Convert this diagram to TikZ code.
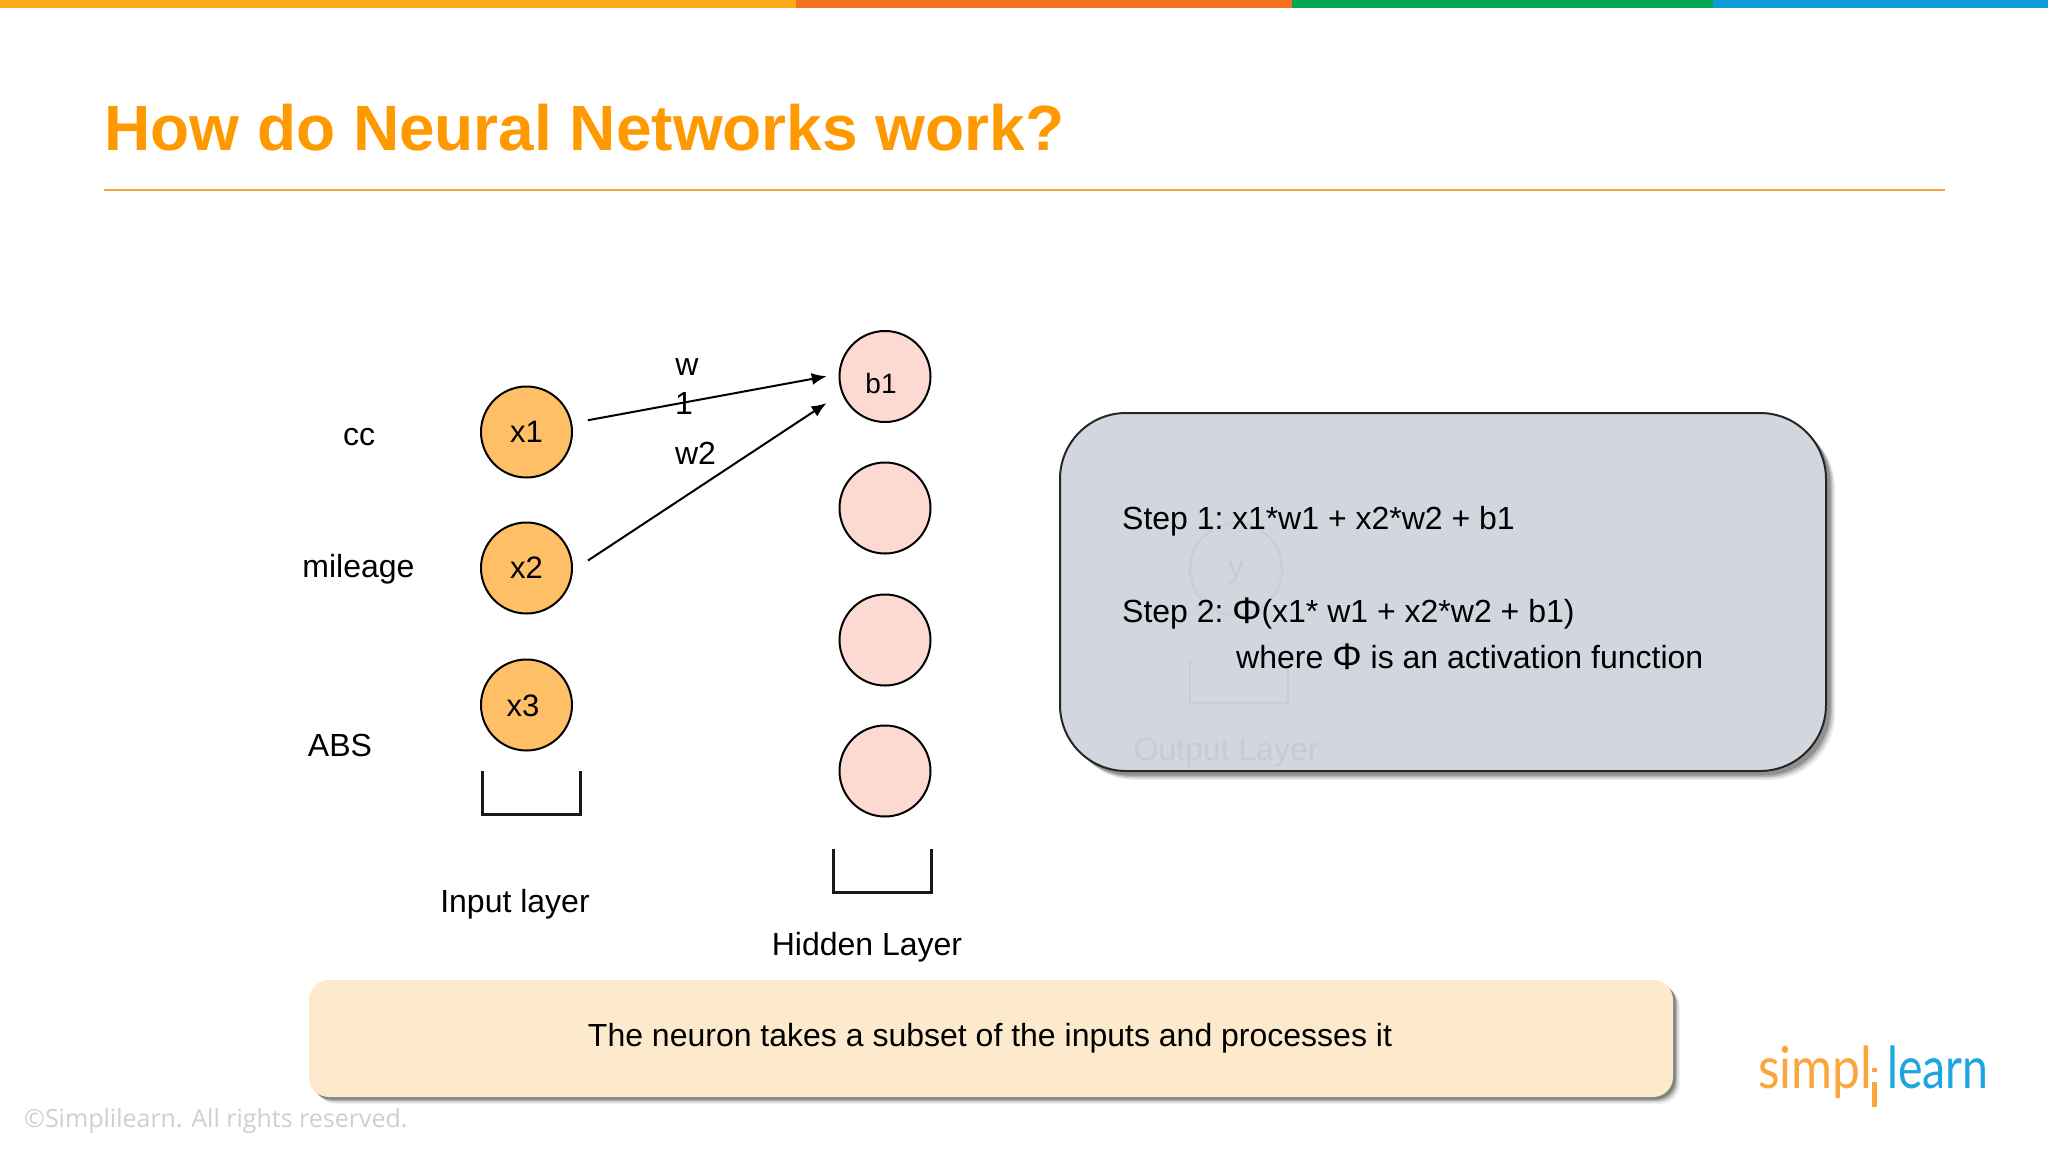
\documentclass[tikz,border=0pt]{standalone}
\usepackage{fontspec}
\setmainfont{Liberation Sans}
\newfontfamily\copyfont{Open Sans}
\newfontfamily\logofont{Lato}
\usetikzlibrary{arrows.meta}
\definecolor{barA}{HTML}{FBA919}
\definecolor{barB}{HTML}{F37021}
\definecolor{barC}{HTML}{00A651}
\definecolor{barD}{HTML}{0F9BD7}
\definecolor{titleC}{HTML}{FF9900}
\definecolor{ruleC}{HTML}{F3A33C}
\definecolor{inC}{HTML}{FFBF66}
\definecolor{hidC}{HTML}{FCDAD2}
\definecolor{greyBox}{HTML}{D1D6DF}
\definecolor{ghost}{HTML}{C8CDD9}
\definecolor{ghostT}{HTML}{C6CBD7}
\definecolor{creamBox}{HTML}{FDEACD}
\definecolor{copyC}{HTML}{CFCFCF}
\definecolor{logoO}{HTML}{FBA63C}
\definecolor{logoB}{HTML}{1CA5E0}
\newcommand{\bigphi}{{\fontsize{37}{36}\selectfont\raisebox{-1.5pt}{Φ}}}
\tikzset{
  x=1pt,y=-1pt,
  txt/.style={inner sep=0pt,font=\fontsize{32}{36}\selectfont,text=black},
  basetxt/.style={txt,anchor=base west},
  neuronin/.style={circle,draw=black,line width=2pt,fill=inC,minimum size=91pt,inner sep=0pt,font=\fontsize{31}{36}\selectfont},
  neuronhid/.style={neuronin,fill=hidC},
  conn/.style={line width=2pt,draw=black,-{Latex[length=15pt,width=12pt]}},
  bracketline/.style={line width=3pt,draw=black!90},
  ghostline/.style={line width=2pt,draw=ghost},
  logotxt/.style={inner sep=0pt,anchor=base west,transform shape,font=\logofont\fontsize{58}{60}\selectfont}
}
\begin{document}
\begin{tikzpicture}
\useasboundingbox (0,0) rectangle (2048,1152);
\fill[white] (0,0) rectangle (2048,1152);
% top bar
\fill[barA] (0,0) rectangle (796,8);
\fill[barB] (796,0) rectangle (1292,8);
\fill[barC] (1292,0) rectangle (1713,8);
\fill[barD] (1713,0) rectangle (2048,8);
% title
\node[inner sep=0pt,anchor=base west,text=titleC,font=\fontsize{64}{70}\selectfont\bfseries] (title) at (104,150) {How do Neural Networks work?};
\draw[ruleC,line width=2pt] (104,190) -- (1945,190);
% input neurons
\node[neuronin] (x1) at (526.5,432) {x1};
\node[neuronin] (x2) at (526.5,568) {x2};
\node[neuronin] (x3) at (526.5,705) {};
\node[txt,font=\fontsize{31}{36}\selectfont] (x3lab) at (523,706) {x3};
% hidden neurons
\node[neuronhid] (b1) at (885,376.5) {};
\node[txt,font=\fontsize{28}{32}\selectfont] (b1lab) at (881,383) {b1};
\node[neuronhid] (b2) at (885,508) {};
\node[neuronhid] (b3) at (885,640) {};
\node[neuronhid] (b4) at (885,771) {};
% connectors
\draw[conn,shorten <=16pt,shorten >=12pt] (x1.11) -- (b1.177);
\draw[conn,shorten <=18pt,shorten >=18pt] (x2.-3) -- (b1.201);
% weight labels
\node[txt] (w1a) at (687,367) {w};
\node[txt] (w1b) at (684,403) {1};
\node[txt] (w2) at (695.5,453) {w2};
% side labels
\node[txt] (cc) at (359,437) {cc};
\node[txt] (mileage) at (358.5,569.5) {mileage};
\node[txt] (abs) at (340,745) {ABS};
% brackets
\draw[bracketline] (482,771) -- (482,814) -- (580,814) -- (580,771);
\draw[bracketline] (833,849) -- (833,892) -- (931,892) -- (931,849);
\node[txt] (inlab) at (515,904.5) {Input layer};
\node[txt] (hidlab) at (867,947.5) {Hidden Layer};
% grey box shadow
\foreach \d/\o in {9/0.07,7.5/0.10,6/0.14,4.5/0.20}{
  \fill[black,opacity=\o,rounded corners=66pt] (1060+\d,413+\d) rectangle (1826+\d,771+\d);
}
\node[draw=black!85,line width=2pt,fill=greyBox,rounded corners=66pt,minimum width=766pt,minimum height=358pt,inner sep=0pt] (stepbox) at (1443,592) {};
% ghost content behind the box
\node[circle,ghostline,minimum size=92pt,inner sep=0pt] (ghosty) at (1236,569) {};
\node[inner sep=0pt,text=ghostT,font=\fontsize{30}{36}\selectfont] (ghostylab) at (1236,573) {y};
\draw[ghostline] (1190,660) -- (1190,703) -- (1288,703) -- (1288,660);
\node[inner sep=0pt,text=ghostT,font=\fontsize{32}{36}\selectfont] (ghostout) at (1226,753) {Output Layer};
% step text
\node[basetxt] (s1) at (1122,529) {Step 1:\kern-0.5pt\ x1*w1 + x2*w2 + b1};
\node[basetxt] (s2) at (1122,622) {Step 2:\kern-0.5pt\ \bigphi(x1* w1 + x2*w2 + b1)};
\node[basetxt] (s3) at (1236,668) {where \bigphi\ is an activation function};
% bottom box
\foreach \d/\o in {7/0.06,5.5/0.10,4/0.18,2.5/0.26}{
  \fill[black,opacity=\o,rounded corners=20pt] (309+\d,980+\d) rectangle (1673+\d,1097+\d);
}
\node[fill=creamBox,rounded corners=20pt,minimum width=1364pt,minimum height=117pt,inner sep=0pt] (note) at (991,1038.5) {};
\node[txt] (notetxt) at (990,1038.5) {The neuron takes a subset of the inputs and processes it};
% copyright
\node[inner sep=0pt,anchor=base west,text=copyC,font=\copyfont\fontsize{25}{30}\selectfont] (copy) at (24,1127) {©Simplilearn. All rights reserved.};
% logo
\node[logotxt,text=logoO,xscale=0.86] (logoa) at (1758,1088) {simpl};
\node[logotxt,text=logoB,xscale=0.80] (logob) at (1887,1088) {learn};
\fill[logoO] (1872,1068) rectangle (1877,1072);
\fill[logoO] (1872,1082) rectangle (1877,1107);
\end{tikzpicture}
\end{document}
